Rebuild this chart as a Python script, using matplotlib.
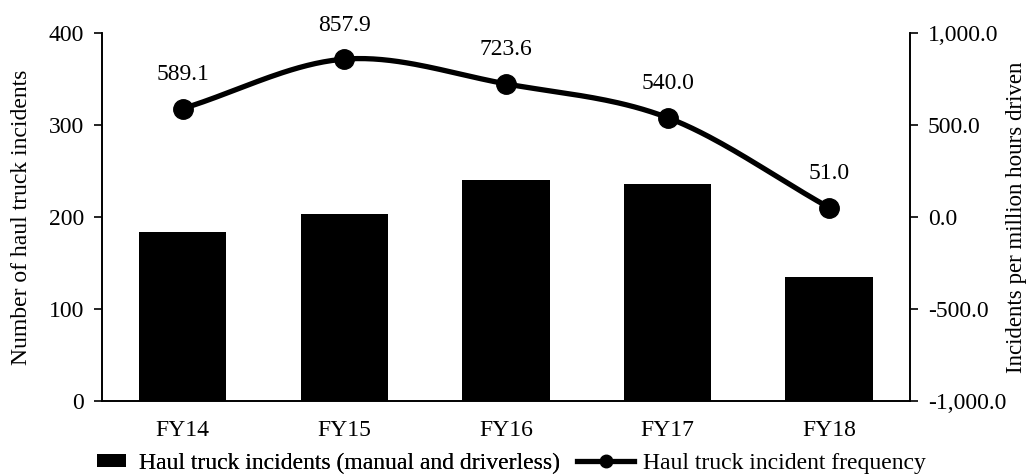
import matplotlib.pyplot as plt
import numpy as np

years = ['FY14', 'FY15', 'FY16', 'FY17', 'FY18']
incidents = [184, 203, 240, 236, 135]
frequency = [589.1, 857.9, 723.6, 540.0, 51.0]


def catmull_rom(x, y, n=40):
    # smooth curve through the points, similar to a spreadsheet "smoothed line"
    x = np.asarray(x, float)
    y = np.asarray(y, float)
    px = np.concatenate([[2 * x[0] - x[1]], x, [2 * x[-1] - x[-2]]])
    py = np.concatenate([[2 * y[0] - y[1]], y, [2 * y[-1] - y[-2]]])
    xs, ys = [], []
    t = np.linspace(0, 1, n)
    for i in range(1, len(px) - 2):
        for p, out in ((px, xs), (py, ys)):
            p0, p1, p2, p3 = p[i - 1], p[i], p[i + 1], p[i + 2]
            out.extend(0.5 * (2 * p1 + (-p0 + p2) * t
                              + (2 * p0 - 5 * p1 + 4 * p2 - p3) * t ** 2
                              + (-p0 + 3 * p1 - 3 * p2 + p3) * t ** 3))
    return np.array(xs), np.array(ys)


plt.rcParams['font.family'] = ['Liberation Serif', 'DejaVu Serif']
plt.rcParams['font.size'] = 17

fig = plt.figure(figsize=(10.27, 4.76), dpi=100)
ax = fig.add_axes([0.0993, 0.1576, 0.7867, 0.7731])
ax2 = ax.twinx()

x = np.arange(len(years))
bars = ax.bar(x, incidents, width=0.54, color='black',
              label='Haul truck incidents (manual and driverless)', zorder=2)

sx, sy = catmull_rom(x, frequency)
ax2.plot(sx, sy, color='black', lw=3.8, solid_capstyle='round', zorder=3)
ax2.plot(x, frequency, 'o', color='black', ms=14, zorder=4)
line, = ax2.plot([], [], '-o', color='black', lw=3.8, ms=9,
                 label='Haul truck incident frequency')
for xi, v in zip(x, frequency):
    ax2.annotate(f'{v:.1f}', (xi, v), xytext=(0, 17), textcoords='offset points',
                 ha='center', va='bottom')

ax.set_xlim(-0.5, len(years) - 0.5)
ax.set_ylim(0, 400)
ax.set_yticks([0, 100, 200, 300, 400])
ax.set_xticks(x)
ax.set_xticklabels(years)
ax.tick_params(axis='x', length=0, pad=14)
ax.tick_params(axis='y', length=6, width=1.2, direction='out', pad=7)
ax.set_ylabel('Number of haul truck incidents', labelpad=12)

ax2.set_ylim(-1000, 1000)
ax2.set_yticks([-1000, -500, 0, 500, 1000])
ax2.set_yticklabels([f'{t:,.1f}' for t in [-1000, -500, 0, 500, 1000]])
ax2.tick_params(axis='y', length=6, width=1.2, direction='out', pad=7)
ax2.set_ylabel('Incidents per million hours driven', fontsize=16.5, labelpad=0)

for a in (ax, ax2):
    a.spines['top'].set_visible(False)
    for s in ('left', 'right', 'bottom'):
        a.spines[s].set_linewidth(1.2)

# two legend entries with different handle lengths
leg1 = fig.legend(handles=[bars], loc='center left', frameon=False,
                  bbox_to_anchor=(0.094, 0.027), borderpad=0, borderaxespad=0,
                  handlelength=1.25, handleheight=0.5, handletextpad=0.55)
leg2 = fig.legend(handles=[line], loc='center left', frameon=False,
                  bbox_to_anchor=(0.562, 0.027), borderpad=0, borderaxespad=0,
                  handlelength=2.4, handletextpad=0.4)
fig.add_artist(leg1)

fig.savefig('out.png', dpi=100)
